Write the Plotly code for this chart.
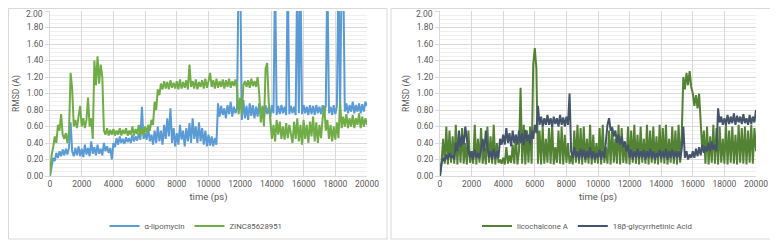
import plotly.graph_objects as go

time_ps = list(range(0, 20001, 100))

lipomycin = [
    0.00, 0.12, 0.22, 0.18, 0.28, 0.22, 0.30, 0.24, 0.32, 0.25,
    0.33, 0.26, 0.35, 0.65, 0.30, 0.24, 0.34, 0.25, 0.36, 0.24,
    0.33, 0.23, 0.38, 0.26, 0.34, 0.24, 0.42, 0.27, 0.35, 0.25,
    0.38, 0.27, 0.33, 0.25, 0.40, 0.30, 0.36, 0.28, 0.34, 0.20,
    0.40, 0.35, 0.46, 0.38, 0.48, 0.40, 0.45, 0.39, 0.47, 0.41,
    0.46, 0.40, 0.50, 0.42, 0.48, 0.43, 0.52, 0.44, 0.84, 0.45,
    0.52, 0.44, 0.58, 0.42, 0.50, 0.38, 0.55, 0.40, 0.60, 0.42,
    0.55, 0.38, 0.62, 0.45, 0.70, 0.48, 0.82, 0.40, 0.58, 0.36,
    0.52, 0.38, 0.62, 0.44, 0.55, 0.36, 0.58, 0.42, 0.64, 0.40,
    0.70, 0.45, 0.60, 0.40, 0.65, 0.42, 0.58, 0.38, 0.55, 0.36,
    0.50, 0.37, 0.48, 0.36, 0.46, 0.38, 0.88, 0.72, 0.85, 0.74,
    0.82, 0.70, 0.86, 0.75, 0.90, 0.72, 0.84, 0.76, 0.82, 2.50,
    2.50, 0.68, 0.92, 0.70, 0.85, 0.68, 0.88, 0.73, 0.86, 0.70,
    0.84, 0.72, 0.88, 0.74, 0.82, 0.70, 0.86, 0.75, 0.84, 0.72,
    0.86, 0.76, 2.50, 0.74, 0.85, 0.75, 0.86, 0.76, 0.84, 0.74,
    2.50, 0.75, 0.85, 0.76, 0.84, 0.74, 2.50, 0.76, 2.50, 0.75,
    0.86, 0.76, 0.84, 0.74, 0.86, 0.75, 0.85, 0.74, 0.86, 0.76,
    0.84, 0.75, 0.86, 0.74, 0.85, 2.50, 0.76, 0.84, 0.74, 0.86,
    0.75, 0.84, 2.50, 0.74, 2.50, 2.50, 0.78, 0.88, 0.76, 0.86,
    0.78, 0.90, 0.76, 0.86, 0.78, 0.88, 0.76, 0.87, 0.78, 0.90,
    0.85,
]

zinc = [
    0.00, 0.25, 0.35, 0.48, 0.40, 0.62, 0.55, 0.75, 0.50, 0.45,
    0.52, 0.40, 0.55, 1.25, 1.05, 0.60, 0.68, 0.58, 0.72, 0.85,
    0.60, 0.70, 0.58, 0.68, 0.95, 0.60, 0.70, 0.45, 1.40, 1.10,
    1.45, 1.12, 1.35, 1.20, 0.55, 0.50, 0.58, 0.49, 0.56, 0.50,
    0.57, 0.49, 0.55, 0.50, 0.58, 0.49, 0.56, 0.51, 0.58, 0.49,
    0.55, 0.50, 0.60, 0.49, 0.57, 0.51, 0.62, 0.48, 0.58, 0.50,
    0.60, 0.52, 0.62, 0.55, 0.68, 0.62, 0.90, 0.80, 1.05, 0.98,
    1.12, 1.05, 1.15, 1.06, 1.14, 1.05, 1.16, 1.07, 1.13, 1.06,
    1.15, 1.05, 1.17, 1.06, 1.14, 1.07, 1.16, 1.05, 1.35, 1.08,
    1.15, 1.06, 1.17, 1.05, 1.14, 1.08, 1.16, 1.06, 1.18, 1.07,
    1.15, 1.25, 1.08, 1.16, 1.06, 1.18, 1.07, 1.15, 1.08, 1.17,
    1.06, 1.16, 1.08, 1.18, 1.07, 1.15, 1.09, 1.17, 1.06, 0.75,
    0.95, 0.75, 1.10, 1.15, 1.08, 1.16, 1.07, 1.18, 1.09, 1.15,
    1.08, 1.20, 1.00, 0.65, 0.85, 0.60, 1.30, 1.37, 0.90, 0.65,
    0.45, 0.62, 0.42, 0.68, 0.50, 0.66, 0.45, 0.60, 0.44, 0.64,
    0.46, 0.62, 0.48, 0.40, 0.66, 0.45, 0.70, 0.42, 0.62, 0.38,
    0.68, 0.45, 0.62, 0.40, 0.66, 0.48, 0.72, 0.42, 0.65, 0.40,
    0.62, 0.46, 0.70, 0.85, 0.55, 0.68, 0.45, 0.62, 0.42, 0.60,
    0.44, 0.65, 0.46, 0.90, 0.58, 0.72, 0.60, 0.75, 0.58, 0.70,
    0.60, 0.74, 0.58, 0.70, 0.62, 0.76, 0.58, 0.72, 0.60, 0.70,
    0.62,
]

licochalcone = [
    0.00, 0.18, 0.45, 0.15, 0.60, 0.14, 0.55, 0.16, 0.48, 0.15,
    0.62, 0.14, 0.50, 0.16, 0.58, 0.15, 0.40, 0.14, 0.55, 0.16,
    0.30, 0.15, 0.62, 0.14, 0.45, 0.16, 0.58, 0.15, 0.35, 0.14,
    0.60, 0.16, 0.48, 0.15, 0.62, 0.14, 0.40, 0.16, 0.20, 0.15,
    0.22, 0.14, 0.35, 0.15, 0.25, 0.16, 0.38, 0.15, 0.50, 0.14,
    0.30, 1.07, 0.15, 0.62, 0.14, 0.55, 0.16, 0.60, 0.15, 1.35,
    1.55, 1.30, 0.15, 0.55, 0.14, 0.60, 0.15, 0.45, 0.16, 0.58,
    0.15, 0.62, 0.14, 0.35, 0.16, 0.55, 0.15, 0.60, 0.14, 0.50,
    0.16, 0.40, 0.15, 0.25, 0.14, 0.55, 0.16, 0.62, 0.15, 0.58,
    0.14, 0.60, 0.16, 0.45, 0.15, 0.62, 0.14, 0.50, 0.16, 0.40,
    0.15, 0.58, 0.14, 0.62, 0.16, 0.35, 0.15, 0.55, 0.14, 0.60,
    0.16, 0.45, 0.15, 0.62, 0.14, 0.58, 0.16, 0.40, 0.15, 0.60,
    0.14, 0.55, 0.16, 0.62, 0.15, 0.50, 0.14, 0.60, 0.16, 0.45,
    0.15, 0.62, 0.14, 0.55, 0.16, 0.60, 0.15, 0.48, 0.14, 0.62,
    0.16, 0.58, 0.15, 0.62, 0.14, 0.45, 0.16, 0.60, 0.15, 0.55,
    0.14, 0.62, 0.16, 0.50, 1.20, 1.05, 1.25, 1.10, 1.27, 1.08,
    1.00, 0.85, 0.98, 0.82, 1.00, 0.62, 0.30, 0.55, 0.15, 0.60,
    0.14, 0.48, 0.16, 0.62, 0.15, 0.58, 0.14, 0.60, 0.16, 0.45,
    0.15, 0.62, 0.14, 0.55, 0.16, 0.60, 0.15, 0.50, 0.14, 0.62,
    0.16, 0.58, 0.15, 0.60, 0.14, 0.55, 0.16, 0.62, 0.15, 0.58,
    0.30,
]

glycyrrhetinic = [
    0.00, 0.15, 0.22, 0.18, 0.26, 0.20, 0.28, 0.22, 0.25, 0.20,
    0.40, 0.30, 0.55, 0.35, 0.50, 0.38, 0.60, 0.42, 0.30, 0.22,
    0.30, 0.20, 0.32, 0.22, 0.28, 0.21, 0.35, 0.45, 0.30, 0.55,
    0.35, 0.22, 0.30, 0.20, 0.33, 0.21, 0.30, 0.22, 0.45, 0.38,
    0.50, 0.38, 0.58, 0.40, 0.52, 0.36, 0.55, 0.40, 0.50, 0.38,
    0.55, 0.40, 0.52, 0.37, 0.56, 0.42, 0.50, 0.38, 0.55, 0.45,
    0.62, 0.52, 0.85, 0.62, 0.72, 0.60, 0.70, 0.62, 0.74, 0.62,
    0.70, 0.60, 0.72, 0.63, 0.70, 0.60, 0.74, 0.62, 0.71, 0.60,
    0.72, 0.62, 1.00, 0.30, 0.22, 0.35, 0.22, 0.30, 0.20, 0.33,
    0.22, 0.32, 0.20, 0.30, 0.22, 0.35, 0.21, 0.30, 0.20, 0.28,
    0.22, 0.32, 0.20, 0.30, 0.22, 0.45, 0.62, 0.70, 0.55, 0.58,
    0.48, 0.55, 0.40, 0.50, 0.38, 0.48, 0.35, 0.42, 0.30, 0.38,
    0.22, 0.32, 0.20, 0.30, 0.22, 0.33, 0.21, 0.30, 0.22, 0.32,
    0.20, 0.30, 0.22, 0.33, 0.21, 0.30, 0.20, 0.28, 0.22, 0.32,
    0.21, 0.30, 0.22, 0.33, 0.20, 0.30, 0.22, 0.32, 0.21, 0.30,
    0.22, 0.30, 0.20, 0.33, 0.60, 0.22, 0.30, 0.20, 0.26, 0.22,
    0.30, 0.22, 0.33, 0.24, 0.35, 0.25, 0.38, 0.28, 0.36, 0.30,
    0.40, 0.30, 0.42, 0.32, 0.38, 0.30, 0.82, 0.65, 0.72, 0.62,
    0.70, 0.62, 0.74, 0.63, 0.72, 0.64, 0.76, 0.62, 0.73, 0.65,
    0.72, 0.63, 0.75, 0.64, 0.70, 0.62, 0.74, 0.63, 0.72, 0.65,
    0.80,
]

x_ticks = list(range(0, 20001, 2000))
x_tick_labels = [str(v) for v in x_ticks]
y_ticks = [round(i * 0.2, 2) for i in range(11)]
y_tick_labels = [f"{v:.2f}" for v in y_ticks]
TOP_LABEL = y_tick_labels[-1]
y_axis_text = y_tick_labels[:-1] + [""]   # top label drawn as annotation to keep it inside the page

# the page body adds an 8px offset; lay out in window pixels and convert
OFF = 8
W, H = 778 - OFF, 241 - OFF
def PX(x):
    return (x - OFF) / W
def PY(y):
    return 1 - (y - OFF) / H

FONT = "Roboto"
TXT = "#595959"
GRID = "#D9D9D9"
LW = 2.0
FS = 8.5
LFS = 7.8

fig = go.Figure()
fig.add_trace(go.Scatter(x=time_ps, y=lipomycin, mode="lines", name="α-lipomycin",
                         line=dict(color="#5B9BD5", width=LW), xaxis="x", yaxis="y", legend="legend"))
fig.add_trace(go.Scatter(x=time_ps, y=zinc, mode="lines", name="ZINC85628951",
                         line=dict(color="#70AD47", width=LW), xaxis="x", yaxis="y", legend="legend"))
fig.add_trace(go.Scatter(x=time_ps, y=licochalcone, mode="lines", name="licochalcone A",
                         line=dict(color="#548235", width=LW), xaxis="x2", yaxis="y2", legend="legend2"))
fig.add_trace(go.Scatter(x=time_ps, y=glycyrrhetinic, mode="lines", name="18β-glycyrrhetinic Acid",
                         line=dict(color="#44546A", width=LW), xaxis="x2", yaxis="y2", legend="legend2"))

def xa(domain, anchor):
    return dict(domain=domain, anchor=anchor, range=[0, 20000], tickvals=x_ticks, ticktext=x_tick_labels,
                showgrid=True, gridcolor=GRID, gridwidth=1, zeroline=False, automargin=False,
                ticklabeloverflow="allow",
                showline=True, linecolor=GRID, ticks="", tickfont=dict(size=FS, color=TXT, family=FONT),
                title=dict(text="time (ps)", font=dict(size=9.5, color=TXT, family=FONT), standoff=5))

def ya(domain, anchor):
    return dict(domain=domain, anchor=anchor, range=[0, 2.0], tickvals=y_ticks, ticktext=y_axis_text,
                showgrid=True, gridcolor=GRID, gridwidth=1, zeroline=False, automargin=False,
                ticklabeloverflow="allow",
                minor=dict(dtick=0.05, showgrid=True, gridcolor="#F0F0F0", gridwidth=1),
                showline=True, linecolor=GRID, ticks="outside", ticklen=4, tickcolor=GRID,
                tickfont=dict(size=FS, color=TXT, family=FONT),
                title=dict(text="RMSD (A)", font=dict(size=8.5, color=TXT, family=FONT), standoff=5))

ydom = [PY(176), PY(11)]
top_annots = [
    dict(text=TOP_LABEL, xref="paper", yref="paper", x=PX(x0), y=1, xanchor="right", yanchor="top",
         xshift=-6, showarrow=False, borderpad=0, font=dict(size=FS, color=TXT, family=FONT))
    for x0 in (50, 440)
]

fig.update_layout(
    width=W, height=H, margin=dict(l=0, r=0, t=0, b=0, autoexpand=False),
    paper_bgcolor="white", plot_bgcolor="white",
    font=dict(family=FONT, color=TXT),
    xaxis=xa([PX(50), PX(367)], "y"),
    yaxis=ya(ydom, "x"),
    xaxis2=xa([PX(440), PX(756)], "y2"),
    yaxis2=ya(ydom, "x2"),
    legend=dict(orientation="h", x=PX(196), y=PY(226), xanchor="center", yanchor="middle",
                font=dict(size=LFS, color=TXT, family=FONT), bgcolor="rgba(0,0,0,0)", itemwidth=30),
    legend2=dict(orientation="h", x=PX(587), y=PY(226), xanchor="center", yanchor="middle",
                 font=dict(size=LFS, color=TXT, family=FONT), bgcolor="rgba(0,0,0,0)", itemwidth=30),
    annotations=top_annots,
    shapes=[
        dict(type="rect", xref="paper", yref="paper", x0=PX(8.5), x1=PX(387), y0=PY(239), y1=PY(8.5),
             line=dict(color="#D9D9D9", width=1), fillcolor="rgba(0,0,0,0)", layer="below"),
        dict(type="rect", xref="paper", yref="paper", x0=PX(391), x1=PX(777.5), y0=PY(239), y1=PY(8.5),
             line=dict(color="#D9D9D9", width=1), fillcolor="rgba(0,0,0,0)", layer="below"),
    ],
)

fig.write_html("out.html")
